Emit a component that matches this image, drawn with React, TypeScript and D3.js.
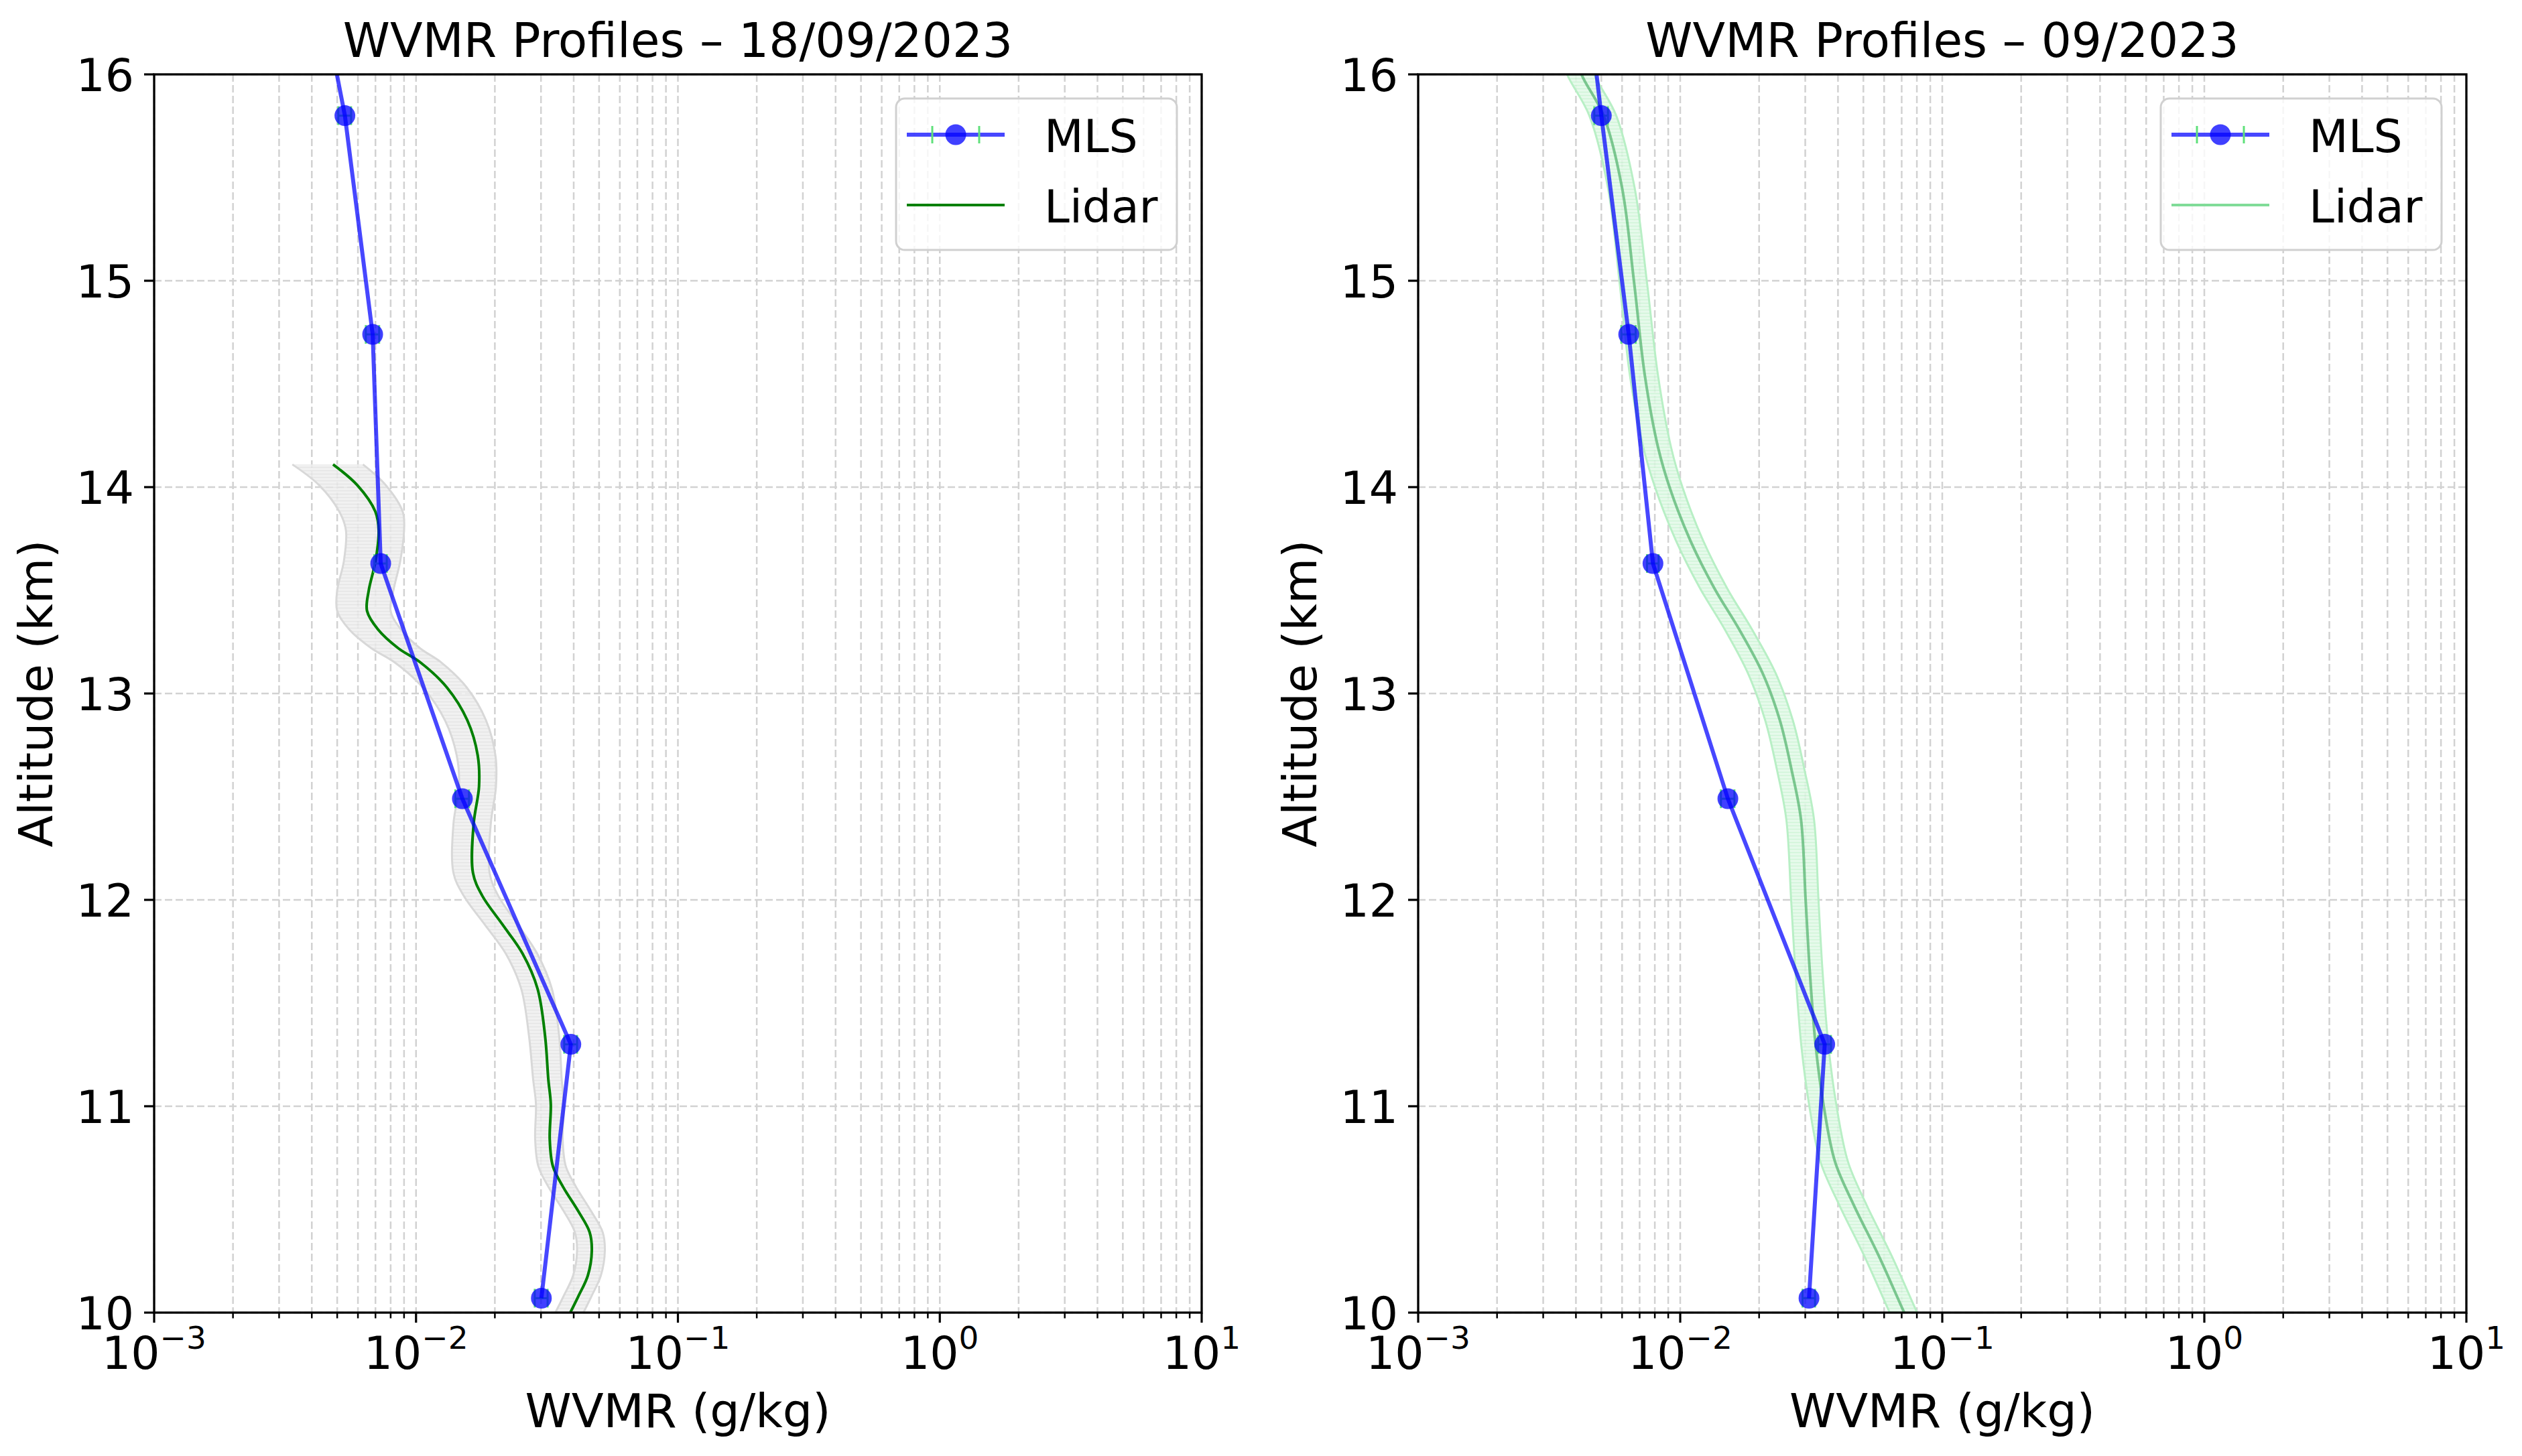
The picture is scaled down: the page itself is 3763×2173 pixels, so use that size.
import React from "react";
import * as d3 from "d3";

// ---------- data ----------
const mlsAlt = [16.9, 15.8, 14.74, 13.63, 12.49, 11.3, 10.07];
const mlsValDay = [0.00363, 0.00535, 0.00683, 0.00733, 0.01503, 0.039, 0.0301];
const mlsErrDay = [0.0002, 0.0003, 0.0004, 0.0004, 0.0009, 0.0022, 0.0017];
const mlsValMonth = [0.00397, 0.005, 0.00636, 0.00787, 0.0152, 0.0356, 0.031];
const mlsErrMonth = [0.0002, 0.0003, 0.0004, 0.0004, 0.0009, 0.002, 0.0017];

const lidarAltDay = [14.11, 14.01, 13.88, 13.79, 13.64, 13.5, 13.4, 13.31, 13.22, 13.15, 13.03, 12.87, 12.7, 12.55, 12.37, 12.13, 12.02, 11.88, 11.74, 11.57, 11.34, 11.13, 11.01, 10.84, 10.71, 10.61, 10.49, 10.39, 10.3, 10.18, 10.08, 9.98];
const lidarValDay = [0.00482, 0.00596, 0.007, 0.0072, 0.007, 0.0066, 0.0065, 0.00716, 0.00854, 0.0104, 0.0131, 0.0157, 0.0172, 0.0174, 0.0166, 0.0165, 0.0179, 0.0214, 0.0255, 0.0291, 0.0311, 0.032, 0.0327, 0.0324, 0.0333, 0.0364, 0.0417, 0.046, 0.0469, 0.0453, 0.0417, 0.0381];
const lidarErrDay = [0.00145, 0.0017, 0.0019, 0.0018, 0.0017, 0.0016, 0.0015, 0.0016, 0.0018, 0.0021, 0.0025, 0.0028, 0.0029, 0.0028, 0.0027, 0.0026, 0.0027, 0.0031, 0.0035, 0.0039, 0.0041, 0.004, 0.004, 0.0039, 0.004, 0.0044, 0.005, 0.0056, 0.0057, 0.0055, 0.0051, 0.0047];

const lidarAltMonth = [16.1, 16.0, 15.8, 15.45, 14.99, 14.54, 14.19, 13.99, 13.74, 13.51, 13.31, 13.1, 12.87, 12.63, 12.39, 12.0, 11.66, 11.29, 11.0, 10.73, 10.52, 10.27, 10.0, 9.9];
const lidarValMonth = [0.004, 0.0042, 0.0051, 0.006, 0.00667, 0.00733, 0.00824, 0.00916, 0.01094, 0.0135, 0.0168, 0.0206, 0.024, 0.0266, 0.0289, 0.0301, 0.0312, 0.0329, 0.0353, 0.039, 0.046, 0.0575, 0.0716, 0.078];
const lidarErrMonth = [0.0005, 0.0005, 0.0006, 0.0007, 0.0008, 0.0009, 0.001, 0.0011, 0.0013, 0.0016, 0.002, 0.0025, 0.0029, 0.0032, 0.0035, 0.0036, 0.0037, 0.0039, 0.0042, 0.0047, 0.0055, 0.0069, 0.0086, 0.0094];

const titles = ["WVMR Profiles \u2013 18/09/2023", "WVMR Profiles \u2013 09/2023"];
const xDomain = [1e-3, 1e1];
const yDomain = [10, 16];
const xExponents = [-3, -2, -1, 0, 1];
const yTicks = [10, 11, 12, 13, 14, 15, 16];
const xLabel = "WVMR (g/kg)";
const yLabel = "Altitude (km)";
const legendLabels = ["MLS", "Lidar"];

// ---------- layout ----------
const W = 3763;
const H = 2173;
const TOP = 111;
const BOTTOM = 1959;
const FONT = "DejaVu Sans";
const FS = 68;
const FS_LABEL = 70;
const FS_TITLE = 71;

type PanelProps = {
  id: string;
  x0: number;
  x1: number;
  title: string;
  mlsVal: number[];
  mlsErr: number[];
  lAlt: number[];
  lVal: number[];
  lErr: number[];
  lineColor: string;
  lineOpacity: number;
  lineWidth: number;
  bandFill: string;
  bandLine: string;
  bandEdge: string;
  legendLineColor: string;
};

function Panel(p: PanelProps) {
  const x = d3.scaleLog().domain(xDomain).range([p.x0, p.x1]);
  const y = d3.scaleLinear().domain(yDomain).range([BOTTOM, TOP]);
  const minor: number[] = [];
  for (let e = -3; e < 1; e++) for (let m = 2; m <= 9; m++) minor.push(m * Math.pow(10, e));
  const major = xExponents.map((e) => Math.pow(10, e));

  const idx = d3.range(p.lAlt.length);
  const curve = d3.curveCatmullRom.alpha(0.5);
  const lidarLine = d3
    .line<number>()
    .x((i) => x(p.lVal[i]))
    .y((i) => y(p.lAlt[i]))
    .curve(curve);
  const lidarArea = d3
    .area<number>()
    .y((i) => y(p.lAlt[i]))
    .x0((i) => x(p.lVal[i] - p.lErr[i]))
    .x1((i) => x(p.lVal[i] + p.lErr[i]))
    .curve(curve);
  const leftEdge = d3
    .line<number>()
    .x((i) => x(p.lVal[i] - p.lErr[i]))
    .y((i) => y(p.lAlt[i]))
    .curve(curve);
  const rightEdge = d3
    .line<number>()
    .x((i) => x(p.lVal[i] + p.lErr[i]))
    .y((i) => y(p.lAlt[i]))
    .curve(curve);
  const mIdx = d3.range(mlsAlt.length);
  const mlsLine = d3
    .line<number>()
    .x((i) => x(p.mlsVal[i]))
    .y((i) => y(mlsAlt[i]));

  const cx = (p.x0 + p.x1) / 2;
  const legW = 419;
  const legX = p.x1 - 37 - legW;
  const legY = 147;
  const gridStyle = { stroke: "#d2d2d2", strokeWidth: 2.5, strokeDasharray: "11 5" };
  const mlsBlue = "#0000ff";
  const errGreen = "#5fe07a";
  const R = 15.5;

  return (
    <g fontFamily={FONT}>
      <defs>
        <clipPath id={"clip" + p.id}>
          <rect x={p.x0} y={TOP} width={p.x1 - p.x0} height={BOTTOM - TOP} />
        </clipPath>
        <pattern id={"hatch" + p.id} width={8} height={5} patternUnits="userSpaceOnUse">
          <rect width={8} height={5} fill={p.bandFill} />
          <line x1={0} x2={8} y1={2.5} y2={2.5} stroke={p.bandLine} strokeWidth={1.4} />
        </pattern>
      </defs>
      {/* grid */}
      {minor.concat(major).map((v, i) => (
        <line key={"gx" + i} x1={x(v)} x2={x(v)} y1={TOP} y2={BOTTOM} {...gridStyle} />
      ))}
      {yTicks.map((v) => (
        <line key={"gy" + v} x1={p.x0} x2={p.x1} y1={y(v)} y2={y(v)} {...gridStyle} />
      ))}
      <g clipPath={`url(#clip${p.id})`}>
        {/* lidar band */}
        <path d={lidarArea(idx) || ""} fill={`url(#hatch${p.id})`} opacity={0.85} />
        <path d={leftEdge(idx) || ""} fill="none" stroke={p.bandEdge} strokeWidth={3} />
        <path d={rightEdge(idx) || ""} fill="none" stroke={p.bandEdge} strokeWidth={3} />
        <path d={lidarLine(idx) || ""} fill="none" stroke={p.lineColor} strokeOpacity={p.lineOpacity} strokeWidth={p.lineWidth} />
        {/* MLS error bars */}
        {mIdx.map((i) => (
          <g key={"me" + i} stroke={errGreen} strokeWidth={3}>
            <line x1={x(p.mlsVal[i] - p.mlsErr[i])} x2={x(p.mlsVal[i] + p.mlsErr[i])} y1={y(mlsAlt[i])} y2={y(mlsAlt[i])} />
            <line x1={x(p.mlsVal[i] - p.mlsErr[i])} x2={x(p.mlsVal[i] - p.mlsErr[i])} y1={y(mlsAlt[i]) - 14} y2={y(mlsAlt[i]) + 14} />
            <line x1={x(p.mlsVal[i] + p.mlsErr[i])} x2={x(p.mlsVal[i] + p.mlsErr[i])} y1={y(mlsAlt[i]) - 14} y2={y(mlsAlt[i]) + 14} />
          </g>
        ))}
        <path d={mlsLine(mIdx) || ""} fill="none" stroke={mlsBlue} strokeOpacity={0.72} strokeWidth={6} />
        {mIdx.map((i) => (
          <circle key={"mc" + i} cx={x(p.mlsVal[i])} cy={y(mlsAlt[i])} r={R} fill={mlsBlue} fillOpacity={0.75} />
        ))}
      </g>
      {/* spines */}
      <rect x={p.x0} y={TOP} width={p.x1 - p.x0} height={BOTTOM - TOP} fill="none" stroke="#000" strokeWidth={3.3} />
      {/* ticks */}
      {major.map((v, i) => (
        <line key={"tM" + i} x1={x(v)} x2={x(v)} y1={BOTTOM} y2={BOTTOM + 15} stroke="#000" strokeWidth={3.2} />
      ))}
      {minor.map((v, i) => (
        <line key={"tm" + i} x1={x(v)} x2={x(v)} y1={BOTTOM} y2={BOTTOM + 8.5} stroke="#000" strokeWidth={2.5} />
      ))}
      {yTicks.map((v) => (
        <line key={"ty" + v} x1={p.x0 - 15} x2={p.x0} y1={y(v)} y2={y(v)} stroke="#000" strokeWidth={3.2} />
      ))}
      {/* tick labels */}
      {xExponents.map((e) => (
        <text key={"xl" + e} x={x(Math.pow(10, e))} y={2043} textAnchor="middle" fontSize={FS} fill="#000">
          <tspan>10</tspan>
          <tspan dy={-30} fontSize={47}>{e < 0 ? "\u2212" + Math.abs(e) : String(e)}</tspan>
        </text>
      ))}
      {yTicks.map((v) => (
        <text key={"yl" + v} x={p.x0 - 30} y={y(v) + 25} textAnchor="end" fontSize={FS} fill="#000">
          {v}
        </text>
      ))}
      {/* axis labels & title */}
      <text x={cx} y={2130} textAnchor="middle" fontSize={FS_LABEL} fill="#000">{xLabel}</text>
      <text transform={`translate(${p.x0 - 152},${(TOP + BOTTOM) / 2}) rotate(-90)`} textAnchor="middle" fontSize={FS_LABEL} fill="#000">
        {yLabel}
      </text>
      <text x={cx} y={85} textAnchor="middle" fontSize={FS_TITLE} fill="#000">{p.title}</text>
      {/* legend */}
      <rect x={legX} y={legY} width={legW} height={226} rx={13} fill="#fff" fillOpacity={0.8} stroke="#d0d0d0" strokeWidth={3} />
      <line x1={legX + 16} x2={legX + 162} y1={201} y2={201} stroke={mlsBlue} strokeOpacity={0.72} strokeWidth={6} />
      <line x1={legX + 54} x2={legX + 54} y1={188} y2={214} stroke={errGreen} strokeWidth={3} />
      <line x1={legX + 124} x2={legX + 124} y1={188} y2={214} stroke={errGreen} strokeWidth={3} />
      <circle cx={legX + 89} cy={201} r={R} fill={mlsBlue} fillOpacity={0.75} />
      <text x={legX + 221} y={227} fontSize={FS} fill="#000">{legendLabels[0]}</text>
      <line x1={legX + 16} x2={legX + 162} y1={306} y2={306} stroke={p.legendLineColor} strokeWidth={p.lineWidth} />
      <text x={legX + 221} y={332} fontSize={FS} fill="#000">{legendLabels[1]}</text>
    </g>
  );
}

export default function App() {
  return (
    <svg
      width={W}
      height={H}
      viewBox={`0 0 ${W} ${H}`}
      style={{ position: "fixed", left: 0, top: 0, background: "#fff" }}
    >
      <rect width={W} height={H} fill="#fff" />
      <Panel
        id="L"
        x0={230}
        x1={1793}
        title={titles[0]}
        mlsVal={mlsValDay}
        mlsErr={mlsErrDay}
        lAlt={lidarAltDay}
        lVal={lidarValDay}
        lErr={lidarErrDay}
        lineColor="#008000"
        lineOpacity={1}
        lineWidth={4}
        bandFill="#eeeeee"
        bandLine="#e0e0e0"
        bandEdge="#d8d8d8"
        legendLineColor="#008000"
      />
      <Panel
        id="R"
        x0={2116}
        x1={3680}
        title={titles[1]}
        mlsVal={mlsValMonth}
        mlsErr={mlsErrMonth}
        lAlt={lidarAltMonth}
        lVal={lidarValMonth}
        lErr={lidarErrMonth}
        lineColor="#4fb06a"
        lineOpacity={0.7}
        lineWidth={4}
        bandFill="#e2f9e7"
        bandLine="#c6f3d1"
        bandEdge="#b8efc5"
        legendLineColor="#80dc98"
      />
    </svg>
  );
}
